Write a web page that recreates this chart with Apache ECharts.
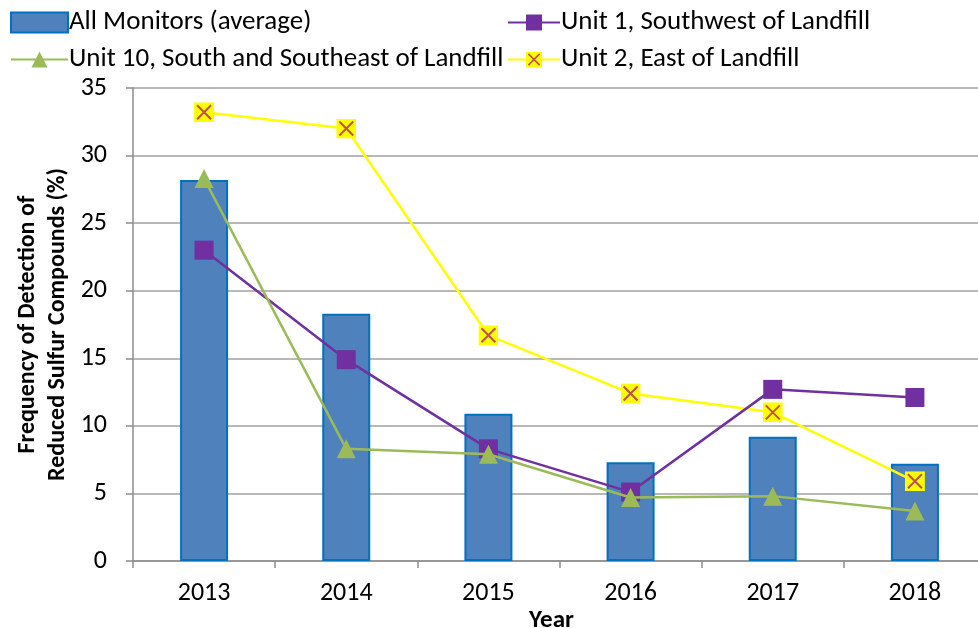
<!DOCTYPE html>
<html>
<head>
<meta charset="utf-8">
<script src="https://cdn.jsdelivr.net/npm/echarts@6/dist/echarts.min.js"></script>
<style>
  html, body { margin: 0; padding: 0; background: #fff; }
  #chart { width: 978px; height: 628px; }
</style>
</head>
<body>
<div id="chart"></div>
<script>
  var years = ['2013', '2014', '2015', '2016', '2017', '2018'];
  var allMonitors = [28.2, 18.3, 10.9, 7.3, 9.2, 7.2];
  var unit1 = [23.0, 14.9, 8.3, 5.1, 12.7, 12.1];
  var unit10 = [28.3, 8.3, 7.9, 4.7, 4.8, 3.7];
  var unit2 = [33.2, 32.0, 16.7, 12.4, 11.0, 5.9];

  var font = 'Carlito, "Liberation Sans Narrow", "Noto Sans", sans-serif';

  // yellow square with red cross, like the excel marker
  var xMark = "<svg xmlns='http://www.w3.org/2000/svg' width='20' height='20'>" +
    "<rect width='20' height='20' fill='#FFFF00'/>" +
    "<path d='M3 3L17 17M17 3L3 17' stroke='#C0504D' stroke-width='2'/></svg>";
  var xSymbol = 'image://data:image/svg+xml;charset=utf-8,' + encodeURIComponent(xMark);

  var chart = echarts.init(document.getElementById('chart'));
  chart.setOption({
    animation: false,
    textStyle: { fontFamily: font, color: '#000' },
    legend: [
      {
        orient: 'vertical', left: 5, top: 4, itemGap: 10,
        itemWidth: 57, itemHeight: 20,
        textStyle: { fontFamily: font, fontSize: 27, color: '#000', padding: [0, 0, 0, -4] },
        data: [
          { name: 'All Monitors (average)', icon: 'rect' },
          'Unit 10, South and Southeast of Landfill'
        ]
      },
      {
        orient: 'vertical', left: 502, top: 4, itemGap: 10,
        itemWidth: 52, itemHeight: 20,
        textStyle: { fontFamily: font, fontSize: 27, color: '#000', padding: [0, 0, 0, -4] },
        data: ['Unit 1, Southwest of Landfill', 'Unit 2, East of Landfill']
      }
    ],
    grid: { left: 133, top: 88, width: 853, height: 473, outerBoundsMode: 'none' },
    xAxis: {
      type: 'category',
      data: years,
      name: 'Year',
      nameLocation: 'middle',
      nameGap: 47,
      nameMoveOverlap: false,
      nameTextStyle: { fontFamily: font, fontSize: 25, fontWeight: 'bold', color: '#000', padding: [0, 16, 0, 0] },
      axisLine: { lineStyle: { color: '#8C8C8C', width: 1.5 } },
      axisTick: { show: true, length: 7, lineStyle: { color: '#8C8C8C', width: 1.5 } },
      axisLabel: { fontFamily: font, fontSize: 26, color: '#000', margin: 19 }
    },
    yAxis: {
      type: 'value',
      min: 0, max: 35, interval: 5,
      name: 'Frequency of Detection of\nReduced Sulfur Compounds (%)',
      nameLocation: 'middle',
      nameGap: 60,
      nameMoveOverlap: false,
      nameTextStyle: { fontFamily: font, fontSize: 24, fontWeight: 'bold', color: '#000', lineHeight: 30 },
      axisLine: { show: true, lineStyle: { color: '#8C8C8C', width: 1.5 } },
      axisTick: { show: true, length: 7, lineStyle: { color: '#8C8C8C', width: 1.5 } },
      axisLabel: { fontFamily: font, fontSize: 26, color: '#000', margin: 26 },
      splitLine: { lineStyle: { color: '#A0A0A0', width: 1.5 } }
    },
    series: [
      {
        name: 'All Monitors (average)',
        type: 'bar',
        data: allMonitors,
        barWidth: 48,
        itemStyle: { color: '#4F81BD', borderColor: '#0070C0', borderWidth: 2 }
      },
      {
        name: 'Unit 1, Southwest of Landfill',
        type: 'line',
        data: unit1,
        symbol: 'rect', symbolSize: 19,
        lineStyle: { color: '#7030A0', width: 2.5 },
        itemStyle: { color: '#7030A0' },
        z: 3
      },
      {
        name: 'Unit 10, South and Southeast of Landfill',
        type: 'line',
        data: unit10,
        symbol: 'triangle', symbolSize: 19,
        lineStyle: { color: '#9BBB59', width: 2.5 },
        itemStyle: { color: '#9BBB59' },
        z: 4
      },
      {
        name: 'Unit 2, East of Landfill',
        type: 'line',
        data: unit2,
        symbol: xSymbol, symbolSize: 20,
        lineStyle: { color: '#FFFF00', width: 2.5 },
        itemStyle: { color: '#FFFF00' },
        z: 2
      }
    ]
  });
</script>
</body>
</html>
